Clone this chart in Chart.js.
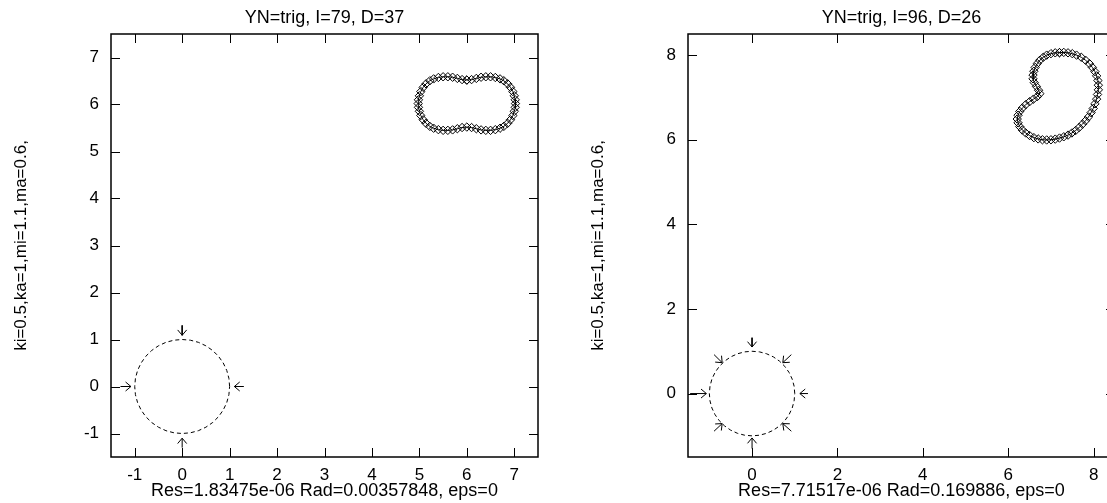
<!DOCTYPE html>
<html>
<head>
<meta charset="utf-8">
<script src="https://cdn.jsdelivr.net/npm/chart.js@4.4.1/dist/chart.umd.min.js"></script>
<style>
  html, body { margin: 0; padding: 0; background: #fff; overflow: hidden; }
  .panel { position: absolute; top: 0; width: 577px; height: 503px; }
</style>
</head>
<body>
<div class="panel" style="left:0"><canvas id="leftChart"></canvas></div>
<div class="panel" style="left:577px"><canvas id="rightChart"></canvas></div>
<script>
// unit circle (dashed), same in both panels
const circleX = [1, 0.985, 0.940, 0.866, 0.766, 0.643, 0.5, 0.342, 0.174, 0, -0.174, -0.342, -0.5, -0.643, -0.766, -0.866, -0.940, -0.985,
  -1, -0.985, -0.940, -0.866, -0.766, -0.643, -0.5, -0.342, -0.174, 0, 0.174, 0.342, 0.5, 0.643, 0.766, 0.866, 0.940, 0.985, 1];
const circleY = [0, 0.174, 0.342, 0.5, 0.643, 0.766, 0.866, 0.940, 0.985, 1, 0.985, 0.940, 0.866, 0.766, 0.643, 0.5, 0.342, 0.174,
  0, -0.174, -0.342, -0.5, -0.643, -0.766, -0.866, -0.940, -0.985, -1, -0.985, -0.940, -0.866, -0.766, -0.643, -0.5, -0.342, -0.174, 0];

// left panel: I=79, D=37
const titleA = 'YN=trig, I=79, D=37';
const xTitleA = 'Res=1.83475e-06 Rad=0.00357848, eps=0';
const xTicksA = [-1, 0, 1, 2, 3, 4, 5, 6, 7];
const yTicksA = [-1, 0, 1, 2, 3, 4, 5, 6, 7];
const peanutX = [6.00, 6.10, 6.20, 6.30, 6.40, 6.50, 6.60, 6.70, 6.78, 6.86, 6.92, 6.97, 7.00, 7.02, 7.025, 7.02, 7.00, 6.97, 6.92, 6.86,
  6.78, 6.70, 6.60, 6.50, 6.40, 6.30, 6.20, 6.10, 6.00, 5.90, 5.80, 5.70, 5.60, 5.50, 5.40, 5.30, 5.22, 5.14, 5.08, 5.03,
  5.00, 4.98, 4.975, 4.98, 5.00, 5.03, 5.08, 5.14, 5.22, 5.30, 5.40, 5.50, 5.60, 5.70, 5.80, 5.90, 6.00];
const peanutY = [6.52, 6.53, 6.555, 6.58, 6.59, 6.59, 6.575, 6.545, 6.505, 6.44, 6.365, 6.275, 6.185, 6.10, 6.02, 5.94, 5.855, 5.765, 5.675, 5.60,
  5.535, 5.495, 5.465, 5.45, 5.45, 5.46, 5.485, 5.51, 5.52, 5.51, 5.485, 5.46, 5.45, 5.45, 5.465, 5.495, 5.535, 5.60, 5.675, 5.765,
  5.855, 5.94, 6.02, 6.10, 6.185, 6.275, 6.365, 6.44, 6.505, 6.545, 6.575, 6.59, 6.59, 6.58, 6.555, 6.53, 6.52];
const arrowTailXA = [-1.3, 1.3, 0, 0];
const arrowTailYA = [0, 0, 1.3, -1.3];
const arrowHeadXA = [-1.08, 1.1, 0, 0];
const arrowHeadYA = [0, 0, 1.09, -1.1];

// right panel: I=96, D=26
const titleB = 'YN=trig, I=96, D=26';
const xTitleB = 'Res=7.71517e-06 Rad=0.169886, eps=0';
const xTicksB = [0, 2, 4, 6, 8];
const yTicksB = [0, 2, 4, 6, 8];
const kidneyX = [7.20, 7.10, 7.00, 6.90, 6.82, 6.74, 6.68, 6.63, 6.60, 6.58, 6.58, 6.61, 6.66, 6.71, 6.74, 6.68, 6.59, 6.50, 6.41, 6.33,
  6.27, 6.23, 6.21, 6.23, 6.27, 6.33, 6.41, 6.50, 6.60, 6.70, 6.80, 6.90, 7.00, 7.10, 7.20, 7.30, 7.40, 7.49, 7.58, 7.66,
  7.74, 7.81, 7.88, 7.94, 7.99, 8.03, 8.07, 8.09, 8.11, 8.11, 8.10, 8.07, 8.03, 7.97, 7.90, 7.81, 7.71, 7.60, 7.50, 7.40, 7.30, 7.20];
const kidneyY = [8.06, 8.055, 8.035, 8.00, 7.95, 7.88, 7.80, 7.71, 7.62, 7.53, 7.44, 7.35, 7.26, 7.17, 7.09, 7.02, 6.96, 6.90, 6.83, 6.75,
  6.67, 6.58, 6.49, 6.40, 6.31, 6.23, 6.16, 6.10, 6.05, 6.02, 6.00, 5.995, 6.00, 6.015, 6.04, 6.07, 6.11, 6.16, 6.22, 6.29,
  6.37, 6.45, 6.54, 6.64, 6.74, 6.85, 6.96, 7.07, 7.18, 7.29, 7.40, 7.51, 7.61, 7.71, 7.80, 7.88, 7.95, 8.00, 8.035, 8.055, 8.065, 8.06];
const arrowTailXB = [-1.45, 1.31, 0, 0, -0.89, 0.92, -0.89, 0.92];
const arrowTailYB = [0, 0, 1.32, -1.3, 0.92, 0.92, -0.89, -0.89];
const arrowHeadXB = [-1.07, 1.12, 0, 0, -0.70, 0.72, -0.70, 0.72];
const arrowHeadYB = [0, 0, 1.10, -1.05, 0.73, 0.73, -0.71, -0.71];

const yTitle = 'ki=0.5,ka=1,mi=1.1,ma=0.6,';

Chart.defaults.font.family = '"Liberation Sans", Arial, sans-serif';
Chart.defaults.color = '#000';

// box round the plot with inward ticks on all four sides
const frameTicks = {
  id: 'frameTicks',
  afterDatasetsDraw(chart) {
    const {ctx, chartArea: a, scales: {x, y}} = chart;
    ctx.save();
    ctx.strokeStyle = '#000';
    ctx.lineWidth = 1;
    ctx.beginPath();
    x.ticks.forEach(t => {
      const px = Math.round(x.getPixelForValue(t.value)) + 0.5;
      ctx.moveTo(px, a.bottom); ctx.lineTo(px, a.bottom - 9);
      ctx.moveTo(px, a.top); ctx.lineTo(px, a.top + 9);
    });
    y.ticks.forEach(t => {
      const py = Math.round(y.getPixelForValue(t.value)) + 0.5;
      ctx.moveTo(a.left, py); ctx.lineTo(a.left + 9, py);
      ctx.moveTo(a.right, py); ctx.lineTo(a.right - 9, py);
    });
    ctx.stroke();
    ctx.lineWidth = 1.5;
    ctx.strokeRect(a.left, a.top, a.right - a.left, a.bottom - a.top);
    ctx.restore();
  }
};

// open V heads on the arrow datasets
const arrowHeads = {
  id: 'arrowHeads',
  afterDatasetsDraw(chart) {
    const ctx = chart.ctx;
    ctx.save();
    ctx.strokeStyle = '#000';
    ctx.lineWidth = 1;
    chart.data.datasets.forEach((ds, i) => {
      if (!ds.arrow) return;
      const pts = chart.getDatasetMeta(i).data;
      const a = pts[0], b = pts[1];
      const ang = Math.atan2(b.y - a.y, b.x - a.x);
      const len = 7, spread = 0.7;
      ctx.beginPath();
      ctx.moveTo(b.x - len * Math.cos(ang - spread), b.y - len * Math.sin(ang - spread));
      ctx.lineTo(b.x, b.y);
      ctx.lineTo(b.x - len * Math.cos(ang + spread), b.y - len * Math.sin(ang + spread));
      ctx.stroke();
    });
    ctx.restore();
  }
};

function pairs(xs, ys) {
  return xs.map((x, i) => ({x: x, y: ys[i]}));
}

function buildChart(id, p) {
  const datasets = [
    {
      data: pairs(circleX, circleY),
      showLine: true, borderColor: '#000', borderWidth: 1, borderDash: [4, 3],
      pointRadius: 0
    },
    {
      data: pairs(p.shapeX, p.shapeY),
      showLine: true, borderColor: '#000', borderWidth: 1,
      pointStyle: 'rectRot', pointRadius: 4.2, pointBorderWidth: 1,
      pointBorderColor: '#000', pointBackgroundColor: 'rgba(0,0,0,0)'
    }
  ];
  p.tailX.forEach((tx, i) => {
    datasets.push({
      arrow: true,
      data: [{x: tx, y: p.tailY[i]}, {x: p.headX[i], y: p.headY[i]}],
      showLine: true, borderColor: '#000', borderWidth: 1, pointRadius: 0
    });
  });

  return new Chart(document.getElementById(id), {
    type: 'scatter',
    data: {datasets: datasets},
    options: {
      animation: false,
      responsive: true,
      maintainAspectRatio: false,
      layout: {padding: {left: 0, right: 39, top: 0, bottom: 0}},
      plugins: {
        legend: {display: false},
        tooltip: {enabled: false},
        title: {
          display: true, text: p.title, fullSize: false,
          font: {size: 18, weight: 'normal'}, color: '#000',
          padding: {top: 7.5, bottom: 4.9}
        }
      },
      scales: {
        x: {
          type: 'linear', min: p.xMin, max: p.xMax,
          afterBuildTicks: s => { s.ticks = p.xTicks.map(v => ({value: v})); },
          afterFit: s => { s.height = 46; },
          grid: {display: false, drawTicks: false},
          border: {display: false},
          ticks: {padding: 8, font: {size: 17}, maxRotation: 0},
          title: {display: true, text: p.xTitle, font: {size: 18}, padding: {top: 0, bottom: 1}}
        },
        y: {
          type: 'linear', min: p.yMin, max: p.yMax,
          afterBuildTicks: s => { s.ticks = p.yTicks.map(v => ({value: v})); },
          afterFit: s => { s.width = 111; },
          grid: {display: false, drawTicks: false},
          border: {display: false},
          ticks: {padding: 12, font: {size: 17}},
          title: {display: true, text: yTitle, font: {size: 17}, padding: {top: 11, bottom: 0}}
        }
      }
    },
    plugins: [frameTicks, arrowHeads]
  });
}

buildChart('leftChart', {
  title: titleA, xTitle: xTitleA, xTicks: xTicksA, yTicks: yTicksA,
  xMin: -1.5, xMax: 7.5, yMin: -1.5, yMax: 7.5,
  shapeX: peanutX, shapeY: peanutY,
  tailX: arrowTailXA, tailY: arrowTailYA, headX: arrowHeadXA, headY: arrowHeadYA
});

buildChart('rightChart', {
  title: titleB, xTitle: xTitleB, xTicks: xTicksB, yTicks: yTicksB,
  xMin: -1.5, xMax: 8.5, yMin: -1.5, yMax: 8.5,
  shapeX: kidneyX, shapeY: kidneyY,
  tailX: arrowTailXB, tailY: arrowTailYB, headX: arrowHeadXB, headY: arrowHeadYB
});
</script>
</body>
</html>
